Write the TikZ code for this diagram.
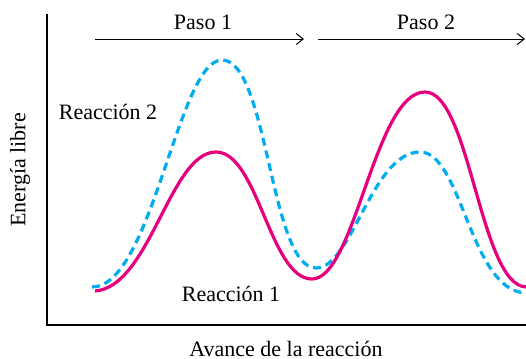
\documentclass[tikz,border=0pt]{standalone}
\usepackage{fontspec}
\setmainfont{Liberation Serif}
\usetikzlibrary{arrows.meta}
\definecolor{reacuno}{RGB}{230,0,126}
\definecolor{reacdos}{RGB}{0,174,239}
\tikzset{
  axis/.style={line width=1.4pt,line cap=rect},
  pasoline/.style={line width=0.5pt,-{Straight Barb[length=3.5pt,width=5.5pt]}},
  curveone/.style={reacuno,line width=1.6pt},
  curvetwo/.style={reacdos,line width=1.6pt,dash pattern=on 4pt off 2.5pt},
  lbl/.style={inner sep=0pt,font=\fontsize{11}{13}\selectfont}
}
\begin{document}
\begin{tikzpicture}[x=0.5pt,y=-0.5pt]
\useasboundingbox (0,0) rectangle (526,359);
% axes
\coordinate (top) at (47,15);
\coordinate (origin) at (47,325);
\coordinate (right) at (526,325);
\draw[axis] (top) -- (origin) -- (right);
\node[lbl,rotate=90] (ylab) at (20,170) {Energía libre};
\node[lbl] (xlab) at (286,349) {Avance de la reacción};
% steps
\coordinate (p1a) at (95,39);
\coordinate (p1b) at (304,39);
\coordinate (p2a) at (318,39);
\coordinate (p2b) at (525,39);
\draw[pasoline] (p1a) -- (p1b);
\draw[pasoline] (p2a) -- (p2b);
\node[lbl] (paso1) at (203,22) {Paso 1};
\node[lbl] (paso2) at (426,22) {Paso 2};
% profiles
\draw[curvetwo] (92,287) .. controls (152,287) and (178,60) .. (222,60)
  .. controls (268,60) and (270,268) .. (316,268)
  .. controls (352,268) and (372,152) .. (420,152)
  .. controls (462,152) and (470,291) .. (526,293);
\draw[curveone] (95,291) .. controls (150,287) and (170,152) .. (216,152)
  .. controls (258,152) and (270,279) .. (312,279)
  .. controls (355,279) and (375,92) .. (425,92)
  .. controls (470,92) and (480,285) .. (526,287);
\node[lbl] (reac2) at (108,112) {Reacción 2};
\node[lbl] (reac1) at (231,294) {Reacción 1};
\end{tikzpicture}
\end{document}
